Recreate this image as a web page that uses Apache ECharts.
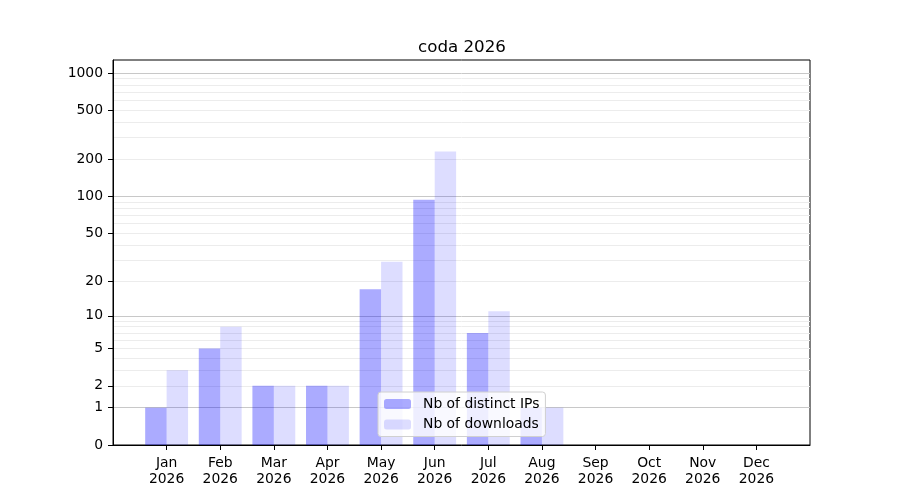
<!DOCTYPE html>
<html>
<head>
	<meta charset="utf-8" />
	<script type="text/javascript" src="https://cdn.jsdelivr.net/npm/echarts@6/dist/echarts.min.js"></script>
	<style type="text/css">
		html, body { margin: 0; padding: 0; background: #fff; }
		#container { width: 900px; height: 500px; }
	</style>
</head>
<body>
<div id="container"></div>
<script type="text/javascript">
	var months = ['Jan', 'Feb', 'Mar', 'Apr', 'May', 'Jun', 'Jul', 'Aug', 'Sep', 'Oct', 'Nov', 'Dec'];
	var year = '2026';
	var distinctIps = [1, 5, 2, 2, 17, 94, 7, 1, 0, 0, 0, 0];
	var downloads = [3, 8, 2, 2, 29, 232, 11, 1, 0, 0, 0, 0];

	// y tick values (axis is log10(v + 1))
	var labelTicks = [0, 1, 2, 5, 10, 20, 50, 100, 200, 500, 1000];
	var decadeLines = [1, 10, 100, 1000];
	var minorLines = [2, 3, 4, 5, 6, 7, 8, 9, 20, 30, 40, 50, 60, 70, 80, 90, 200, 300, 400, 500, 600, 700, 800, 900];
	var monthIdx = [0, 1, 2, 3, 4, 5, 6, 7, 8, 9, 10, 11];

	function tf(v) { return Math.log10(v + 1); }

	var yMax = 3.105;
	var font = 'DejaVu Sans';

	var chart = echarts.init(document.getElementById('container'));

	function hiddenY(values, color) {
		return {
			type: 'value', min: 0, max: yMax, position: 'left',
			axisLine: { show: false, onZero: false },
			axisLabel: { show: false },
			axisTick: { show: false, customValues: values.map(tf) },
			splitLine: { show: true, lineStyle: { color: color, width: 1 } }
		};
	}

	var options = {
		animation: false,
		textStyle: { fontFamily: font },
		title: {
			text: 'coda 2026',
			left: 413,
			top: 34,
			textStyle: { fontFamily: font, fontSize: 16.7, fontWeight: 'normal', color: '#000' }
		},
		grid: {
			left: 113, right: 90, top: 60, bottom: 55,
			show: true, borderColor: '#000', borderWidth: 1
		},
		legend: {
			orient: 'vertical',
			left: 378, top: 392,
			padding: [5, 6, 5, 6],
			itemWidth: 27, itemHeight: 10, itemGap: 6.5,
			borderColor: '#d0d0d0', borderWidth: 1, borderRadius: 3,
			backgroundColor: 'rgba(255,255,255,0.8)',
			textStyle: { fontFamily: font, fontSize: 13.9, color: '#000', lineHeight: 14, padding: [0, 0, 0, 7] },
			data: ['Nb of distinct IPs', 'Nb of downloads']
		},
		xAxis: {
			type: 'value', min: -1, max: 12,
			axisLine: { show: true, onZero: false, lineStyle: { color: '#000' } },
			axisTick: { show: true, length: 5, customValues: monthIdx, lineStyle: { color: '#000' } },
			axisLabel: {
				customValues: monthIdx,
				margin: 10,
				fontFamily: font, fontSize: 13.9, lineHeight: 16.5, color: '#000',
				formatter: function (v) { return months[Math.round(v)] + '\n' + year; }
			},
			splitLine: { show: false }
		},
		yAxis: [
			{
				type: 'value', min: 0, max: yMax, position: 'left',
				axisLine: { show: true, onZero: false, lineStyle: { color: '#000' } },
				axisTick: { show: true, length: 5, customValues: labelTicks.map(tf), lineStyle: { color: '#000' } },
				axisLabel: {
					customValues: labelTicks.map(tf),
					margin: 10,
					fontFamily: font, fontSize: 13.9, color: '#000',
					formatter: function (v) { return String(Math.round(Math.pow(10, v) - 1)); }
				},
				splitLine: { show: false }
			},
			hiddenY(minorLines, '#ececec'),
			hiddenY(decadeLines, '#c8c8c8')
		],
		series: [
			{
				name: 'Nb of distinct IPs',
				type: 'bar',
				barGap: 0,
				barCategoryGap: '20%',
				itemStyle: { color: 'rgba(0,0,255,0.33)' },
				data: distinctIps.map(function (v, i) { return [i, tf(v)]; })
			},
			{
				name: 'Nb of downloads',
				type: 'bar',
				barGap: 0,
				barCategoryGap: '20%',
				itemStyle: { color: 'rgba(0,0,255,0.134)' },
				data: downloads.map(function (v, i) { return [i, tf(v)]; })
			}
		]
	};

	chart.setOption(options);
</script>
</body>
</html>
